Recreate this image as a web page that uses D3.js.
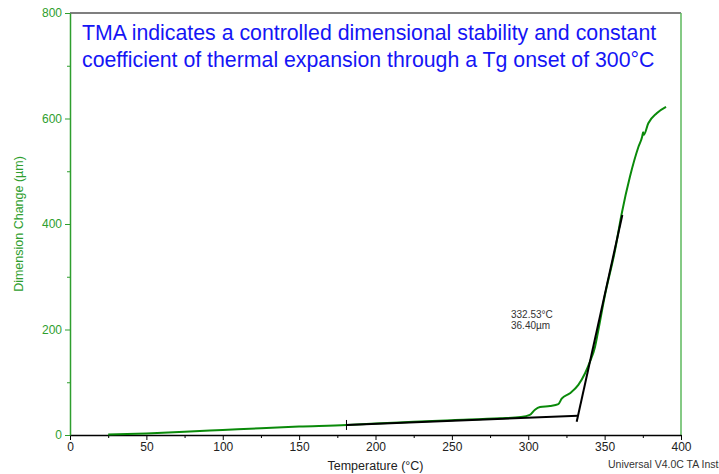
<!DOCTYPE html>
<html>
<head>
<meta charset="utf-8">
<script src="https://cdn.jsdelivr.net/npm/d3@7"></script>
<style>
  body { margin: 0; background: #fff; overflow: hidden; }
  svg { display: block; font-family: "Liberation Sans", Arial, sans-serif; }
</style>
</head>
<body>
<div id="chart"></div>
<script>
// Temperature (°C) and dimension change (µm)
var temps = [25, 50, 75, 100, 125, 150, 181, 200, 225, 250, 281.5, 295, 301, 304.4, 307.7,
             314.2, 319.7, 321.9, 327.3, 332.8, 337.2, 340.4, 343.7, 345.9, 350, 356.8,
             361.2, 366.6, 372.1, 374.6, 375.2, 375.6, 378.6, 384.1, 390.2];
var dims = [1, 3, 6, 9.5, 13, 16, 19, 22, 25, 28, 31.6, 34, 38, 48, 53,
            55, 58.5, 69, 79, 95, 117, 139, 167, 199, 262, 350,
            420, 490, 546, 566, 574, 569, 591, 610, 622];

// tangent lines for the onset analysis
var baseTemps = [181, 332.53];
var baseDims = [19, 36.4];
var riseTemps = [331.7, 361.6];
var riseDims = [25, 417];

var xTicks = [0, 50, 100, 150, 200, 250, 300, 350, 400];
var yTicks = [0, 200, 400, 600, 800];
var onsetLabel = ["332.53°C", "36.40µm"];

var w = 719, h = 474;
var margin = {left: 70, top: 13, right: 38, bottom: 39};

var svg = d3.select("#chart").append("svg").attr("width", w).attr("height", h);

var x = d3.scaleLinear().domain([0, 400]).range([margin.left, w - margin.right]);
var y = d3.scaleLinear().domain([0, 800]).range([h - margin.bottom, margin.top]);

// frame: top and right borders
svg.append("line")
    .attr("x1", x(0)).attr("x2", x(400)).attr("y1", y(800)).attr("y2", y(800))
    .attr("stroke", "#555").attr("stroke-width", 1.5);
svg.append("line")
    .attr("x1", x(400)).attr("x2", x(400)).attr("y1", y(800)).attr("y2", y(0))
    .attr("stroke", "#5cb85c").attr("stroke-width", 1.5);

// x axis
var xAxis = svg.append("g")
    .attr("transform", "translate(0," + y(0) + ")")
    .call(d3.axisBottom(x).tickValues(xTicks).tickSize(5).tickPadding(2).tickSizeOuter(0));
xAxis.select(".domain").attr("stroke", "#000").attr("stroke-width", 1.5);
xAxis.selectAll("text").attr("font-size", "12px").attr("fill", "#222")
    .attr("font-family", "Liberation Sans, Arial, sans-serif");
svg.append("g")
    .attr("transform", "translate(0," + y(0) + ")")
    .call(d3.axisBottom(x).tickValues(d3.range(25, 400, 50)).tickSize(3).tickFormat(""))
    .select(".domain").remove();

// y axis
var yAxis = svg.append("g")
    .attr("transform", "translate(" + x(0) + ",0)")
    .call(d3.axisLeft(y).tickValues(yTicks).tickSize(5).tickPadding(3).tickSizeOuter(0));
yAxis.select(".domain").attr("stroke", "#2e9e2e").attr("stroke-width", 1.5);
yAxis.selectAll(".tick line").attr("stroke", "#2e9e2e");
yAxis.selectAll("text").attr("font-size", "12px").attr("fill", "#2e9e2e")
    .attr("font-family", "Liberation Sans, Arial, sans-serif");
var yMinor = svg.append("g")
    .attr("transform", "translate(" + x(0) + ",0)")
    .call(d3.axisLeft(y).tickValues([100, 300, 500, 700]).tickSize(3).tickFormat(""));
yMinor.select(".domain").remove();
yMinor.selectAll(".tick line").attr("stroke", "#2e9e2e");

// axis titles
svg.append("text")
    .attr("x", x(200)).attr("y", 470)
    .attr("text-anchor", "middle").attr("font-size", "12.5px").attr("fill", "#222")
    .text("Temperature (°C)");
svg.append("text")
    .attr("transform", "translate(23," + 224 + ") rotate(-90)")
    .attr("text-anchor", "middle").attr("font-size", "12.5px").attr("fill", "#2e9e2e")
    .text("Dimension Change (µm)");

// main trace
var line = d3.line()
    .x(function(d) { return x(d[0]); })
    .y(function(d) { return y(d[1]); })
    .curve(d3.curveMonotoneX);
svg.append("path")
    .datum(d3.zip(temps, dims))
    .attr("d", line)
    .attr("fill", "none").attr("stroke", "#0a8a0a").attr("stroke-width", 2);

// onset tangents
var straight = d3.line()
    .x(function(d) { return x(d[0]); })
    .y(function(d) { return y(d[1]); });
svg.append("path")
    .datum(d3.zip(baseTemps, baseDims))
    .attr("d", straight)
    .attr("fill", "none").attr("stroke", "#000").attr("stroke-width", 2);
svg.append("path")
    .datum(d3.zip(riseTemps, riseDims))
    .attr("d", straight)
    .attr("fill", "none").attr("stroke", "#000").attr("stroke-width", 2);
svg.append("line")
    .attr("x1", x(baseTemps[0])).attr("x2", x(baseTemps[0]))
    .attr("y1", y(baseDims[0]) - 5).attr("y2", y(baseDims[0]) + 5)
    .attr("stroke", "#000").attr("stroke-width", 1);

// onset label
svg.selectAll(".onset")
    .data(onsetLabel)
    .enter()
    .append("text")
    .attr("class", "onset")
    .attr("x", 511)
    .attr("y", function(d, i) { return 318 + i * 11; })
    .attr("font-size", "10px").attr("fill", "#333")
    .text(function(d) { return d; });

// headline
svg.selectAll(".headline")
    .data(["TMA indicates a controlled dimensional stability and constant",
           "coefficient of thermal expansion through a Tg onset of 300°C"])
    .enter()
    .append("text")
    .attr("class", "headline")
    .attr("x", 82)
    .attr("y", function(d, i) { return 40 + i * 27; })
    .attr("font-size", "21.3px").attr("fill", "#1515f5")
    .text(function(d) { return d; });

// footer (runs off the right edge, as in the original export)
svg.append("text")
    .attr("x", 608).attr("y", 468)
    .attr("font-size", "10.5px").attr("fill", "#333")
    .text("Universal V4.0C TA Instruments");
</script>
</body>
</html>
